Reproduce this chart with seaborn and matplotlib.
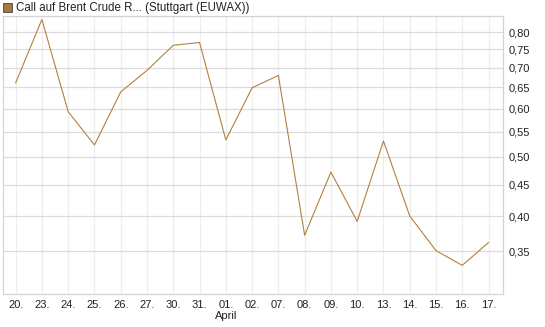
import numpy as np
import pandas as pd
import matplotlib
matplotlib.use("Agg")
import matplotlib.pyplot as plt
import matplotlib.ticker as mticker
from matplotlib.patches import Rectangle
import seaborn as sns

dates = ["20.", "23.", "24.", "25.", "26.", "27.", "30.", "31.", "01.", "02.",
         "07.", "08.", "09.", "10.", "13.", "14.", "15.", "16.", "17."]
prices = [0.661, 0.840, 0.593, 0.523, 0.639, 0.693, 0.762, 0.770, 0.533, 0.649,
          0.680, 0.372, 0.472, 0.392, 0.531, 0.400, 0.351, 0.332, 0.362]
y_ticks = [0.35, 0.40, 0.45, 0.50, 0.55, 0.60, 0.65, 0.70, 0.75, 0.80]
title = "Call auf Brent Crude R... (Stuttgart (EUWAX))"
month_label = "April"

sns.set_theme(style="white")
plt.rcParams['font.family'] = ['Liberation Sans', 'DejaVu Sans']

df = pd.DataFrame({"idx": np.arange(len(dates)), "price": prices})

fig = plt.figure(figsize=(5.45, 3.27), dpi=100)
ax = fig.add_axes([2.5/545, 1 - 294/327, (503 - 2.5)/545, (294 - 16)/327])

line_color = "#b3803e"
sns.lineplot(data=df, x="idx", y="price", ax=ax, color=line_color, linewidth=0.8)

ax.set_yscale("log")
ax.set_ylim(0.298, 0.851)
ax.set_xlim(-0.5, 18.55)

ax.yaxis.set_major_locator(mticker.FixedLocator(y_ticks))
ax.yaxis.set_minor_locator(mticker.NullLocator())
ax.yaxis.set_major_formatter(mticker.FuncFormatter(lambda v, p: f"{v:.2f}".replace(".", ",")))
ax.yaxis.tick_right()
ax.tick_params(axis="y", length=0, pad=4, labelsize=8, labelcolor="#222222")

ax.set_xticks(df["idx"])
ax.set_xticklabels(dates)
ax.tick_params(axis="x", length=0, pad=4, labelsize=8, labelcolor="#222222")

ax.set_xlabel("")
ax.set_ylabel("")

ax.grid(axis="y", color="#dcdcdc", linewidth=0.9)
ax.grid(axis="x", color="#eeeeee", linewidth=0.9)
ax.set_axisbelow(True)
for s in ax.spines.values():
    s.set_color("#d4d4d4")
    s.set_linewidth(0.9)

# month label under "01."
ax.text(8, -0.062, month_label, transform=ax.get_xaxis_transform(),
        ha="center", va="top", fontsize=8, color="#222222")

# legend-like header
fig.patches.append(Rectangle((3/545, 1 - 12/327), 9/545, 9/327, transform=fig.transFigure,
                             facecolor="#a8773a", edgecolor="#555555", linewidth=0.7))
fig.text(16/545, 1 - 8/327, title, ha="left", va="center", fontsize=8.3, color="#222222")

fig.savefig("out.png", dpi=100)
